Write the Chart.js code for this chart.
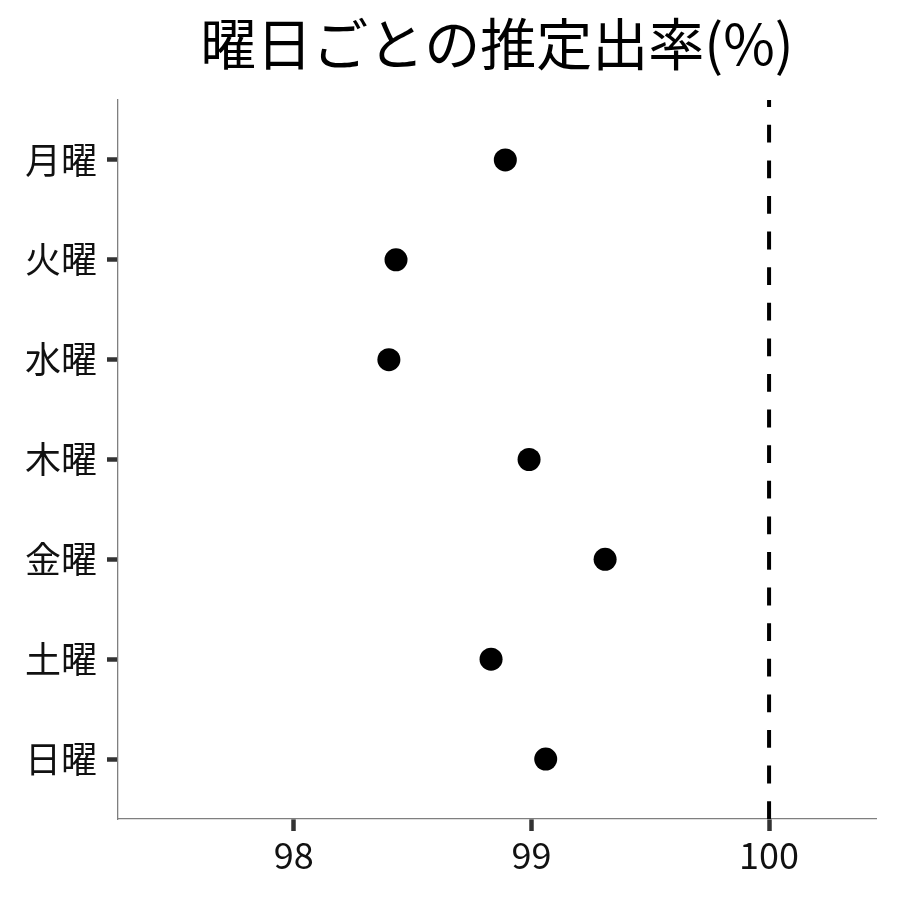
<!DOCTYPE html>
<html>
<head>
<meta charset="utf-8">
<script src="https://cdn.jsdelivr.net/npm/chart.js@4"></script>
<style>
body{margin:0;background:#fff;}
</style>
</head>
<body>
<canvas id="c" width="900" height="900"></canvas>
<script>
const days=["月曜","火曜","水曜","木曜","金曜","土曜","日曜"];
const rates=[98.89,98.43,98.40,98.99,99.31,98.83,99.06];
const xTicks=[98,99,100];
const refValue=100;
const titleText="曜日ごとの推定出率(%)";

const fam="'Noto Sans CJK JP','Noto Sans',sans-serif";
const pts=days.map((d,i)=>({x:rates[i],y:i}));

// no grid on the chart area, only the short tick marks
const tickGrid=(len)=>({drawOnChartArea:false,drawTicks:true,tickLength:len,tickColor:"#333",tickWidth:4.5});

new Chart(document.getElementById('c'),{
    type:"scatter",
    data:{
        datasets:[{
            type:"line",
            // drawn from the bottom up so the dash pattern starts at the x axis
            data:[{x:refValue,y:6.6},{x:refValue,y:-0.6}],
            borderColor:"#000",
            borderWidth:4,
            borderDash:[17.8,17.8],
            pointRadius:0,
            fill:false,
            order:2
        },{
            data:pts,
            backgroundColor:"#000",
            borderWidth:0,
            pointRadius:11.5,
            pointHoverRadius:11.5,
            order:1
        }]
    },
    options:{
        responsive:false,
        animation:false,
        devicePixelRatio:1,
        layout:{padding:{top:0,left:0,right:24,bottom:0}},
        plugins:{
            legend:{display:false},
            tooltip:{enabled:false},
            title:{
                display:true,
                text:titleText,
                fullSize:false,
                color:"#000",
                font:{family:fam,size:56,weight:"normal"},
                padding:{top:10,bottom:22.8}
            }
        },
        scales:{
            x:{
                type:"linear",
                min:97.26,max:100.45,
                afterBuildTicks:(s)=>{s.ticks=xTicks.map(v=>({value:v}));},
                afterFit:(s)=>{s.height=81;},
                border:{display:true,color:"#7f7f7f",width:1.3},
                grid:tickGrid(12),
                ticks:{color:"#111",padding:3,font:{family:fam,size:36},maxRotation:0}
            },
            y:{
                type:"linear",
                min:-0.6,max:6.6,
                reverse:true,
                afterBuildTicks:(s)=>{s.ticks=days.map((d,i)=>({value:i}));},
                afterFit:(s)=>{s.width=118;},
                border:{display:true,color:"#7f7f7f",width:1.3},
                grid:tickGrid(11),
                ticks:{color:"#111",padding:10,font:{family:fam,size:36},callback:(v)=>days[v]}
            }
        }
    },
    plugins:[{
        beforeDraw:(chart)=>{
            const ctx=chart.canvas.getContext('2d');
            ctx.fillStyle="#fff";
            ctx.fillRect(0,0,chart.width,chart.height);
        }
    }]
});
</script>
</body>
</html>
